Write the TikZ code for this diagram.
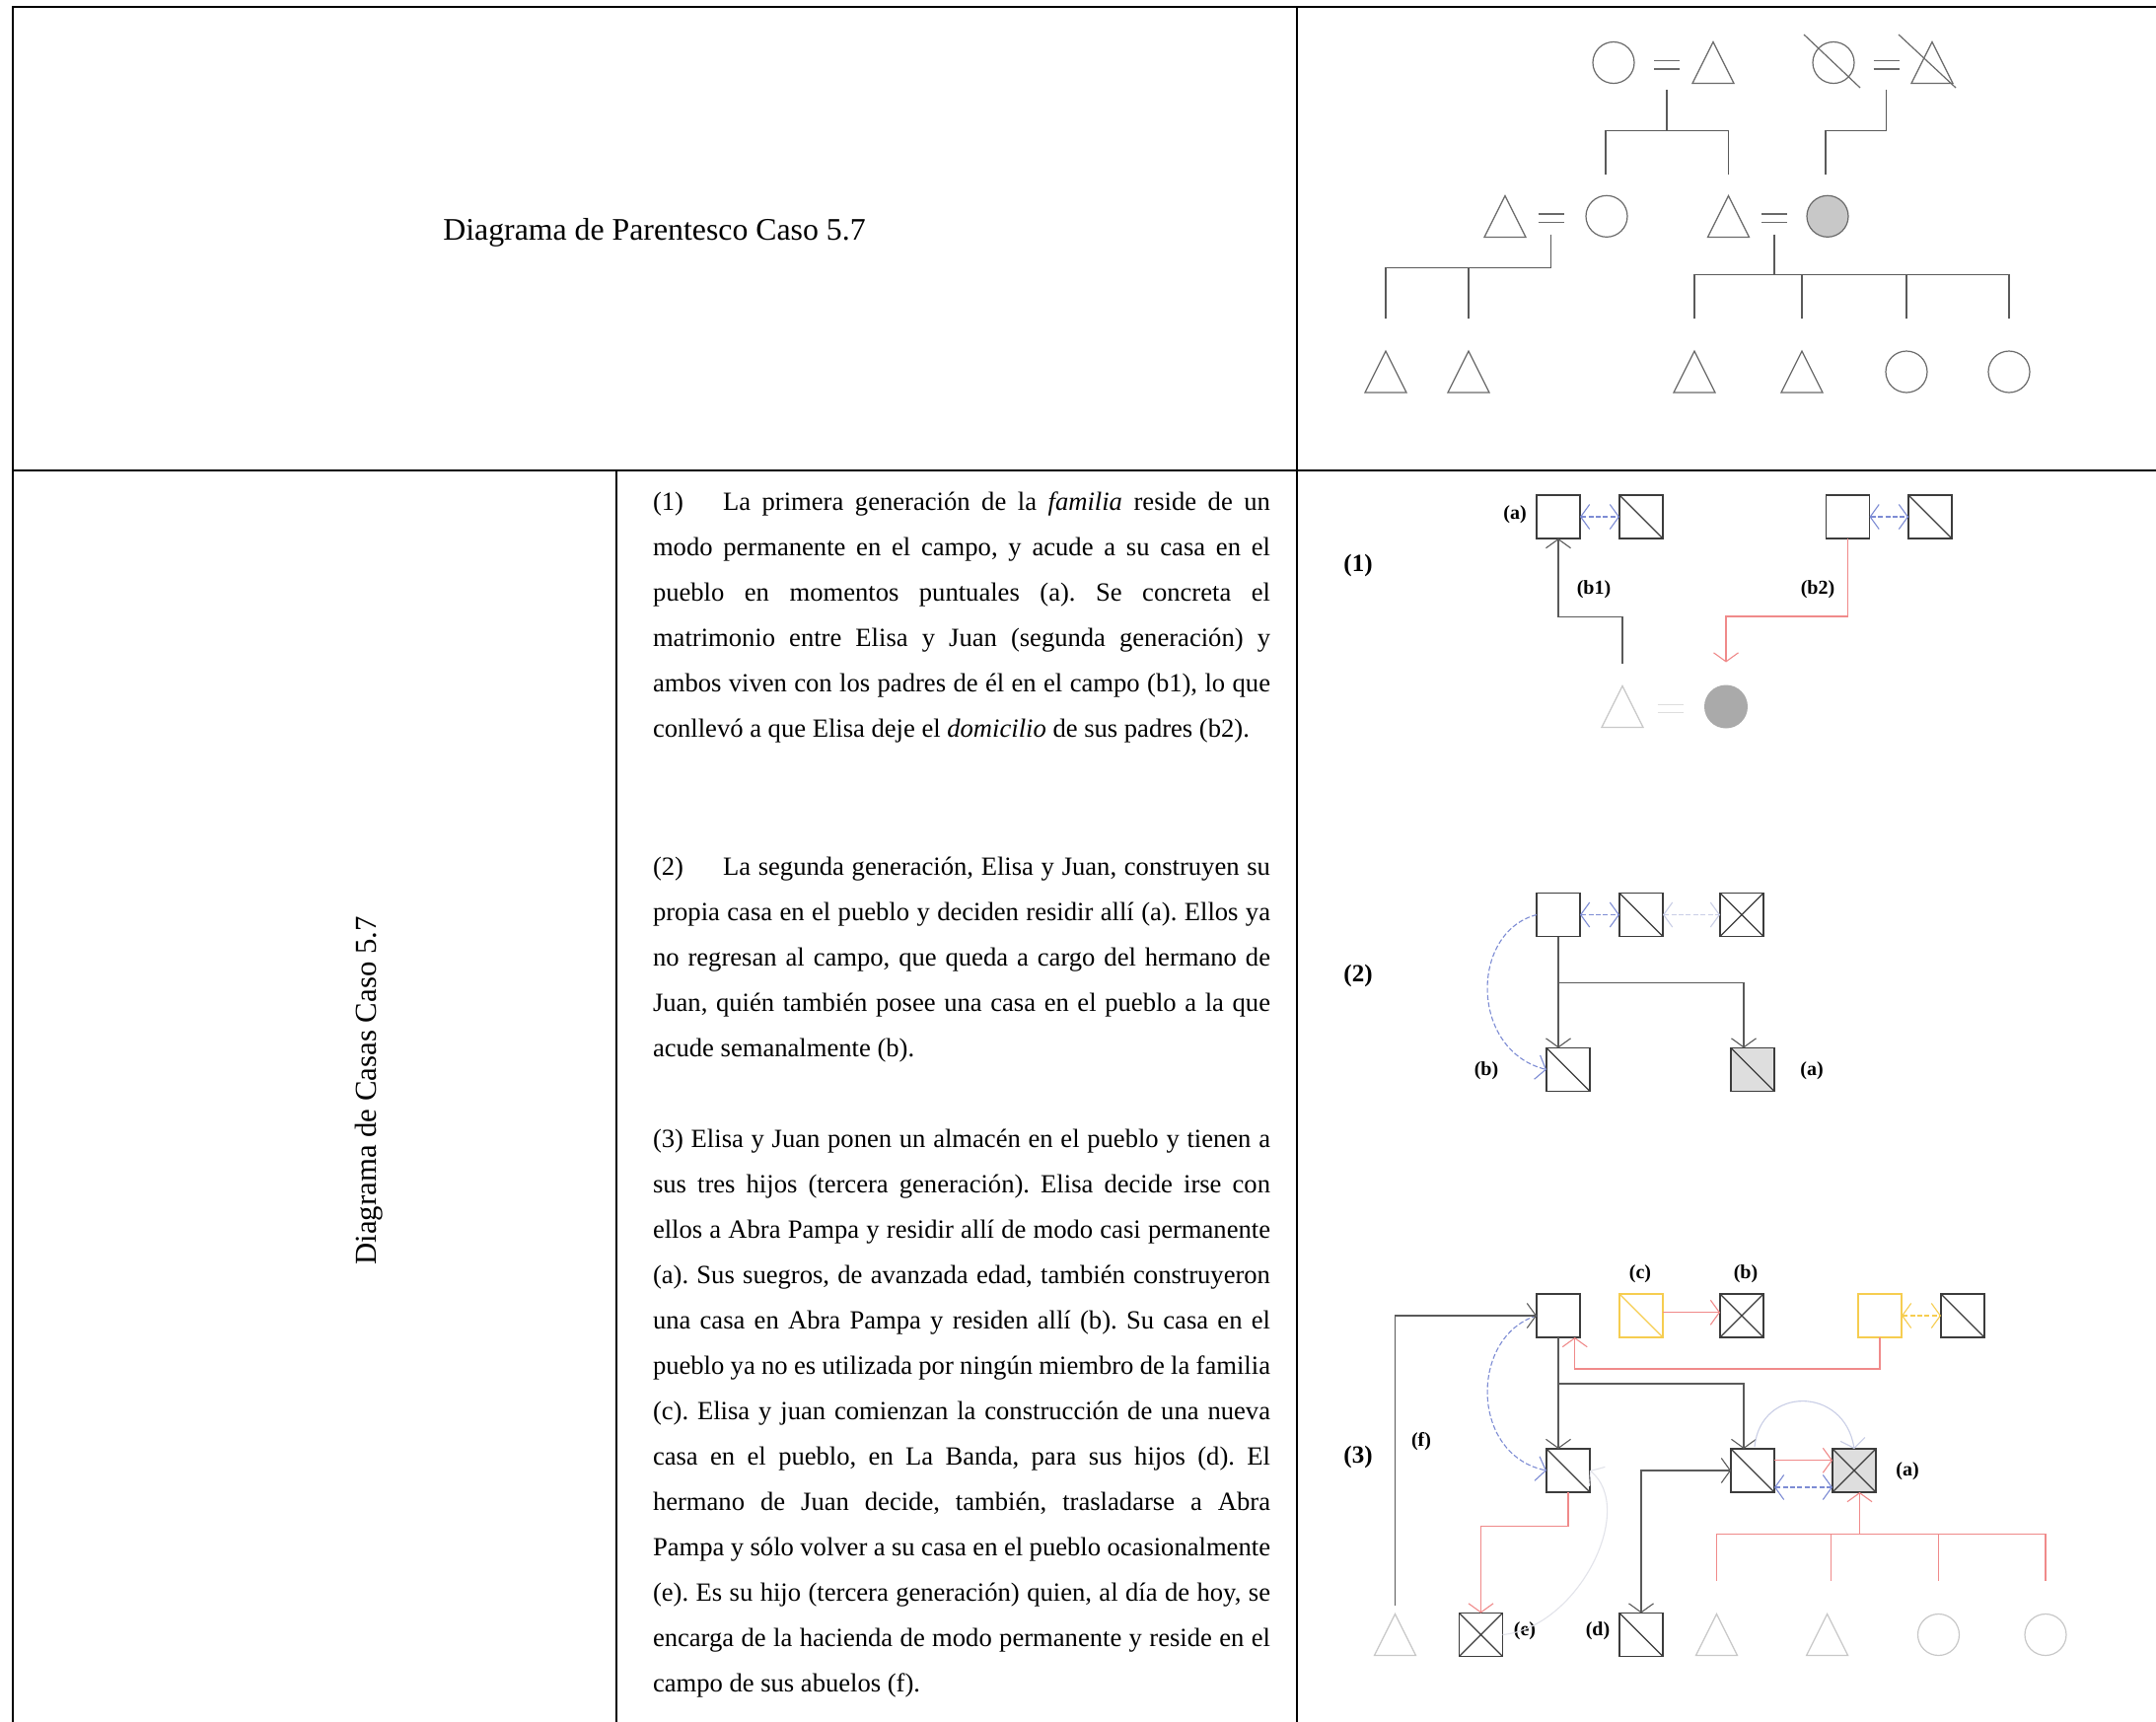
\documentclass[tikz,border=0pt]{standalone}
\usepackage{fontspec}
\setmainfont{Liberation Serif}
\usetikzlibrary{arrows.meta,calc}
\definecolor{kinline}{HTML}{5A5A5A}
\definecolor{kinshape}{HTML}{6A6A6A}
\definecolor{boxc}{HTML}{3C3C3C}
\definecolor{redc}{HTML}{F08A8A}
\definecolor{bluec}{HTML}{7D8CD4}
\definecolor{lblue}{HTML}{C9CEE6}
\definecolor{lgcurve}{HTML}{E2E3EA}
\definecolor{yelc}{HTML}{F6CD50}
\definecolor{faint}{HTML}{C8C8C8}
\definecolor{fainter}{HTML}{DDDDDD}
\definecolor{grayfill}{HTML}{C8C8C8}
\definecolor{darkfill}{HTML}{AAAAAA}
\definecolor{boxfill}{HTML}{DEDEDE}
\newcommand{\jl}[1]{\makebox[313pt][s]{#1}}
\newcommand{\txtline}[3]{\node[txt] (#1) at (662,#2) {#3};}
\newcommand{\kintri}[4][kinshape]{\node[trinode] (#2) at (#3,#4) {};
  \draw[#1, line width=0.6pt, line join=miter] (#2.north) -- (#2.south west) -- (#2.south east) -- cycle;}
\newcommand{\kineq}[4][kinshape]{\node[eqnode] (#2) at (#3,#4) {};
  \draw[#1, line width=0.6pt] (#2.north west) -- (#2.north east) (#2.south west) -- (#2.south east);}
\begin{document}
\frenchspacing
\begin{tikzpicture}[x=0.5pt,y=-0.5pt,
  txt/.style={inner sep=0, outer sep=0, font=\fontsize{13.3}{16}\selectfont\frenchspacing, anchor=base west},
  lab/.style={inner sep=0, font=\bfseries\fontsize{10}{12}\selectfont},
  sec/.style={inner sep=0, font=\bfseries\fontsize{12.5}{15}\selectfont},
  hbox/.style={draw=boxc, line width=0.7pt, minimum width=22pt, minimum height=22pt, inner sep=0, outer sep=0},
  diag/.style={path picture={\draw[#1, line width=0.6pt] (path picture bounding box.north west) -- (path picture bounding box.south east);}},
  diag/.default=boxc,
  cross/.style={path picture={\draw[boxc, line width=0.6pt] (path picture bounding box.north west) -- (path picture bounding box.south east) (path picture bounding box.north east) -- (path picture bounding box.south west);}},
  kcirc/.style={circle, draw=kinshape, line width=0.6pt, minimum size=21pt, inner sep=0, outer sep=0},
  trinode/.style={rectangle, minimum width=21pt, minimum height=21pt, inner sep=0, outer sep=0},
  eqnode/.style={rectangle, minimum width=13pt, minimum height=4.2pt, inner sep=0, outer sep=0},
  kin/.style={draw=kinline, line width=0.55pt},
  arr/.style={line width=0.55pt, -{Straight Barb[length=4.5pt,width=12.5pt]}},
  darr/.style={line width=0.55pt, {Straight Barb[length=4.5pt,width=12.5pt]}-{Straight Barb[length=4.5pt,width=12.5pt]}},
  dsh/.style={dash pattern=on 2.5pt off 1.2pt},
  grid/.style={line width=1pt, black}]
\useasboundingbox (0,0) rectangle (2186,1746);
\fill[white] (0,0) rectangle (2186,1746);
% table
\draw[grid] (2190,7) -- (13,7) -- (13,1750);
\draw[grid] (1315,7) -- (1315,1750);
\draw[grid] (13,476.7) -- (2190,476.7);
\draw[grid] (624.5,476.7) -- (624.5,1750);
% titles
\node[inner sep=0, font=\fontsize{15.9}{19}\selectfont, anchor=base] (title) at (663.5,243) {Diagrama de Parentesco Caso 5.7};
\node[inner sep=0, font=\fontsize{15.4}{18}\selectfont, anchor=base, rotate=90] (rtitle) at (381,1106) {Diagrama de Casas Caso 5.7};
% paragraph 1
\txtline{p1a}{517.6}{\jl{\makebox[35.5pt][l]{(1)}La primera generación de la \textit{familia} reside de un}}
\txtline{p1b}{563.6}{\jl{modo permanente en el campo, y acude a su casa en el}}
\txtline{p1c}{609.6}{\jl{pueblo en momentos puntuales (a). Se concreta el}}
\txtline{p1d}{655.6}{\jl{matrimonio entre Elisa y Juan (segunda generación) y}}
\txtline{p1e}{701.6}{\jl{ambos viven con los padres de él en el campo (b1), lo que}}
\txtline{p1f}{747.6}{conllevó a que Elisa deje el \textit{domicilio} de sus padres (b2).}
% paragraph 2
\txtline{p2a}{887}{\jl{\makebox[35.5pt][l]{(2)}La segunda generación, Elisa y Juan, construyen su}}
\txtline{p2b}{933}{\jl{propia casa en el pueblo y deciden residir allí (a). Ellos ya}}
\txtline{p2c}{979}{\jl{no regresan al campo, que queda a cargo del hermano de}}
\txtline{p2d}{1025}{\jl{Juan, quién también posee una casa en el pueblo a la que}}
\txtline{p2e}{1071}{acude semanalmente (b).}
% paragraph 3
\txtline{p3a}{1163}{\jl{(3) Elisa y Juan ponen un almacén en el pueblo y tienen a}}
\txtline{p3b}{1209}{\jl{sus tres hijos (tercera generación). Elisa decide irse con}}
\txtline{p3c}{1255.1}{\jl{ellos a Abra Pampa y residir allí de modo casi permanente}}
\txtline{p3d}{1301.1}{\jl{(a). Sus suegros, de avanzada edad, también construyeron}}
\txtline{p3e}{1347.1}{\jl{una casa en Abra Pampa y residen allí (b). Su casa en el}}
\txtline{p3f}{1393.2}{\jl{pueblo ya no es utilizada por ningún miembro de la familia}}
\txtline{p3g}{1439.2}{\jl{(c). Elisa y juan comienzan la construcción de una nueva}}
\txtline{p3h}{1485.2}{\jl{casa en el pueblo, en La Banda, para sus hijos (d). El}}
\txtline{p3i}{1531.3}{\jl{hermano de Juan decide, también, trasladarse a Abra}}
\txtline{p3j}{1577.3}{\jl{Pampa y sólo volver a su casa en el pueblo ocasionalmente}}
\txtline{p3k}{1623.3}{\jl{(e). Es su hijo (tercera generación) quien, al día de hoy, se}}
\txtline{p3l}{1669.4}{\jl{encarga de la hacienda de modo permanente y reside en el}}
\txtline{p3m}{1715.4}{campo de sus abuelos (f).}
% ---------------- kinship diagram
\node[kcirc] (g1a) at (1636,63.5) {};
\kineq{g1m}{1690}{65.85}
\kintri{g1b}{1737}{63.5}
\node[kcirc] (g1c) at (1859,63.5) {};
\draw[kinshape, line width=0.6pt] ($(g1c)+(-30,-28.5)$) -- ($(g1c)+(27,25.5)$);
\kineq{g1n}{1912.5}{65.85}
\kintri{g1d}{1959}{63.5}
\draw[kinshape, line width=0.6pt] ($(g1d)+(-34,-28.5)$) -- ($(g1d)+(24,25.5)$);
\kintri{g2a}{1526}{219.5}
\kineq{g2m}{1572.5}{221.2}
\node[kcirc] (g2b) at (1629,219.3) {};
\kintri{g2c}{1752.5}{219.5}
\kineq{g2n}{1799}{221.2}
\node[kcirc, fill=grayfill] (g2d) at (1853,219.3) {};
\kintri{g3a}{1405}{377}
\kintri{g3b}{1489}{377}
\kintri{g3c}{1718}{377}
\kintri{g3d}{1827}{377}
\node[kcirc] (g3e) at (1933,377) {};
\node[kcirc] (g3f) at (2037,377) {};
\draw[kin] (g1m.south) ++(0,20.7) -- ++(0,41.3) coordinate (j1);
\draw[kin] ($(g2b.north)+(-1,-21.6)$) |- (j1) -| ($(g2c.north)+(0,-21.8)$);
\draw[kin] (g1n.south) ++(0,20.7) -- ++(0,41.3) -| ($(g2d.north)+(-2,-21.6)$);
\draw[kin] (g2m.south) ++(0,12.3) -- ++(0,33.7) coordinate (j2);
\draw[kin] (j2) -| ($(g3a.north)+(0,-33)$);
\draw[kin] ($(g3b.north)+(0,-33)$) -- (g3b.north |- j2);
\draw[kin] (g2n.south) ++(0,12.3) -- ++(0,40.7) coordinate (j3);
\draw[kin] ($(g3c.north)+(0,-33)$) |- (j3) -| ($(g3f.north)+(0,-33)$);
\draw[kin] ($(g3d.north)+(0,-33)$) -- (g3d.north |- j3);
\draw[kin] ($(g3e.north)+(0,-33)$) -- (g3e.north |- j3);
% ---------------- section (1)
\node[sec] (s1) at (1377,573) {(1)};
\node[hbox] (a1) at (1580,524) {};
\node[hbox, diag] (a2) at (1664,524) {};
\node[hbox] (a3) at (1873.5,524) {};
\node[hbox, diag] (a4) at (1957,524) {};
\node[lab] (la1) at (1536,522) {(a)};
\draw[darr, bluec, dsh] (a1) -- (a2);
\draw[darr, bluec, dsh] (a3) -- (a4);
\kintri[faint]{a5}{1645}{716.5}
\kineq[fainter]{a6}{1693.5}{718.5}
\node[circle, fill=darkfill, minimum size=22pt, inner sep=0, outer sep=0] (a7) at (1750,716.5) {};
\draw[arr, kinline] ($(a5.north)+(0,-23)$) -- ++(0,-46.7) -| (a1.south);
\draw[arr, redc] (a3.south) -- ++(0,79) -| ($(a7.north)+(0,-23)$);
\node[lab] (lb1) at (1616,598) {(b1)};
\node[lab] (lb2) at (1843,598) {(b2)};
% ---------------- section (2)
\node[sec] (s2) at (1377,989) {(2)};
\node[hbox] (b1) at (1580,927.5) {};
\node[hbox, diag] (b2) at (1664,927.5) {};
\node[hbox, cross] (b3) at (1766,927.5) {};
\node[hbox, diag] (b4) at (1590,1084.5) {};
\node[hbox, diag, fill=boxfill] (b5) at (1777,1084.5) {};
\draw[darr, bluec, dsh] (b1) -- (b2);
\draw[darr, lblue, dsh] (b2) -- (b3);
\draw[arr, kinline] (b1.south) -- (b1.south |- b4.north);
\coordinate (j4) at ($(b1.south)+(0,46.7)$);
\draw[arr, kinline] (j4) -| ($(b5.north)+(-9,0)$);
\draw[arr, bluec, dsh] (b1.west) .. controls (1490,945) and (1490,1065) .. (b4.west);
\node[lab] (lb3) at (1507,1086) {(b)};
\node[lab] (lb4) at (1837,1086) {(a)};
% ---------------- section (3)
\node[sec] (s3) at (1377,1477) {(3)};
\node[hbox] (c1) at (1580,1334) {};
\node[hbox, draw=yelc, diag=yelc] (c2) at (1664,1334) {};
\node[hbox, cross] (c3) at (1766,1334) {};
\node[hbox, draw=yelc] (c4) at (1906,1334) {};
\node[hbox, diag] (c5) at (1990,1334) {};
\node[lab] (lc) at (1663,1292) {(c)};
\node[lab] (lbb) at (1770,1292) {(b)};
\draw[arr, redc] ($(c2.east)+(0,-3.3)$) -- ($(c3.west)+(0,-3.3)$);
\draw[darr, yelc, dsh] (c4) -- (c5);
\draw[arr, redc] (c4.south) -- ++(0,32) -| ($(c1.south)+(16.7,0)$);
\node[hbox, diag] (c6) at (1590,1491) {};
\node[hbox, diag] (c7) at (1777,1491) {};
\node[hbox, cross, fill=boxfill] (c8) at (1880,1491) {};
\node[lab] (la3) at (1934,1492) {(a)};
\draw[arr, kinline] (c1.south) -- (c1.south |- c6.north);
\coordinate (j5) at ($(c1.south)+(0,47)$);
\draw[arr, kinline] (j5) -| ($(c7.north)+(-9,0)$);
\draw[arr, redc] ($(c7.east)+(0,-10.3)$) -- ($(c8.west)+(0,-10.3)$);
\draw[darr, bluec, dsh] ($(c7.east)+(0,17)$) -- ($(c8.west)+(0,17)$);
\draw[arr, lblue] ($(c7.north)+(2,-2)$) .. controls (1785,1405) and (1870,1405) .. (c8.north);
\draw[arr, bluec, dsh] (c1.west) .. controls (1490,1355) and (1490,1475) .. (c6.west);
% children row
\kintri[faint]{d1}{1414.5}{1657.5}
\node[hbox, cross] (d2) at (1501.5,1657.5) {};
\node[hbox, diag] (d3) at (1664,1657.5) {};
\kintri[faint]{d4}{1740.5}{1657.5}
\kintri[faint]{d5}{1852.6}{1657.5}
\node[kcirc, draw=faint] (d6) at (1965.5,1657.5) {};
\node[kcirc, draw=faint] (d7) at (2074,1657.5) {};
\node[lab] (le) at (1546,1654) {(e)};
\node[lab] (ld) at (1620,1654) {(d)};
\node[lab] (lf) at (1441,1462) {(f)};
\draw[arr, kinline] ($(d1.north)+(0,-9)$) |- (c1.west);
\draw[darr, kinline] (c7.west) -| (d3.north);
\draw[arr, redc] (c6.south) -- ++(0,34.7) -| (d2.north);
\draw[arr, lgcurve] (d2.east) .. controls (1600,1650) and (1660,1530) .. (c6.east);
\coordinate (j6) at ($(c8.south)+(5.5,42.7)$);
\draw[arr, redc] (j6) -- (j6 |- c8.south);
\draw[redc, line width=0.55pt] ($(d4.north)+(0,-34)$) |- (j6) -| ($(d7.north)+(0,-34)$);
\draw[redc, line width=0.55pt] ($(d5.north)+(4,-34)$) -- ++(0,-46.8);
\draw[redc, line width=0.55pt] ($(d6.north)+(0,-34)$) -- ++(0,-46.8);
\end{tikzpicture}
\end{document}
